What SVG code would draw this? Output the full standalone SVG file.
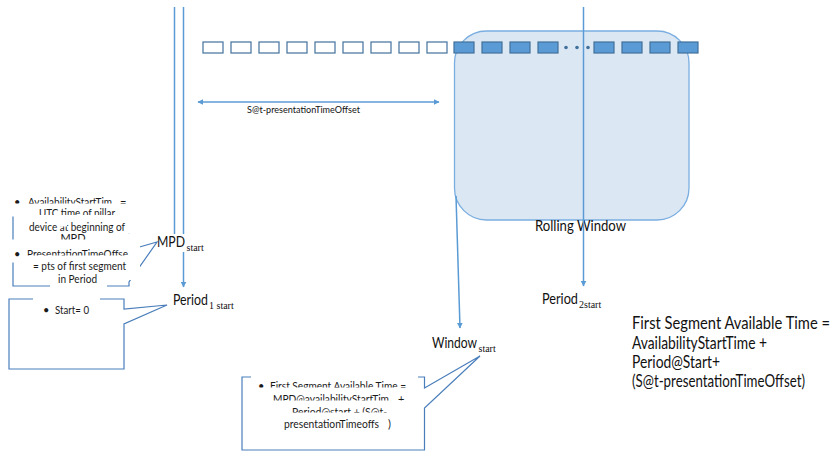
<svg xmlns="http://www.w3.org/2000/svg" width="834" height="453" viewBox="0 0 834 453">
  <defs>
    <marker id="arrow" viewBox="0 0 10 10" refX="9" refY="5" markerWidth="6" markerHeight="6" markerUnits="userSpaceOnUse" orient="auto-start-reverse">
      <path d="M0,0 L10,5 L0,10 Z" fill="#5b9bd5"/>
    </marker>
  </defs>
  <style>
    .lbl { font-family: Lato, "Liberation Sans", sans-serif; fill: #111; }
    .sub { font-family: "Liberation Serif", serif; fill: #111; }
    .note { font-family: Lato, "Liberation Sans", sans-serif; font-size: 11px; fill: #1a1a1a; }
    .seg { fill: #ffffff; stroke: #41719c; stroke-width: 1.2; }
    .seg-on { fill: #5b9bd5; stroke: #41719c; stroke-width: 1.2; }
    .link { fill: none; stroke: #5b9bd5; stroke-width: 1.5; }
    .callout { fill: none; stroke: #4a7ebb; stroke-width: 1.2; }
    .mask { fill: #ffffff; }
  </style>
  <rect width="834" height="453" fill="#ffffff"/>

  <!-- rolling window -->
  <g id="rolling-window">
    <rect x="454.5" y="31" width="234.5" height="189" rx="32" ry="32" fill="#dce7f4" stroke="#7aaee0" stroke-width="1.3"/>
    <text class="lbl" x="535" y="230.5" font-size="15" textLength="91" lengthAdjust="spacingAndGlyphs">Rolling Window</text>
  </g>

  <!-- segment timeline -->
  <g id="segments">
    <rect class="seg" x="203" y="42" width="20" height="11"/>
    <rect class="seg" x="231" y="42" width="20" height="11"/>
    <rect class="seg" x="259" y="42" width="20" height="11"/>
    <rect class="seg" x="287" y="42" width="20" height="11"/>
    <rect class="seg" x="315" y="42" width="20" height="11"/>
    <rect class="seg" x="343" y="42" width="20" height="11"/>
    <rect class="seg" x="371" y="42" width="20" height="11"/>
    <rect class="seg" x="399" y="42" width="20" height="11"/>
    <rect class="seg" x="427" y="42" width="20" height="11"/>
    <rect class="seg-on" x="454" y="42" width="20" height="11"/>
    <rect class="seg-on" x="482" y="42" width="20" height="11"/>
    <rect class="seg-on" x="510" y="42" width="20" height="11"/>
    <rect class="seg-on" x="538" y="42" width="20" height="11"/>
    <circle cx="566" cy="47.5" r="1.8" fill="#41719c"/>
    <circle cx="577" cy="47.5" r="1.8" fill="#41719c"/>
    <circle cx="588" cy="47.5" r="1.8" fill="#41719c"/>
    <rect class="seg-on" x="594" y="42" width="20" height="11"/>
    <rect class="seg-on" x="622" y="42" width="20" height="11"/>
    <rect class="seg-on" x="650" y="42" width="20" height="11"/>
    <rect class="seg-on" x="678" y="42" width="20" height="11"/>
  </g>

  <!-- connectors -->
  <g id="connectors">
    <line class="link" x1="174.5" y1="7" x2="174.5" y2="234"/>
    <line class="link" x1="183.5" y1="7" x2="183.5" y2="234"/>
    <line class="link" x1="183.5" y1="252" x2="183.5" y2="287" marker-end="url(#arrow)"/>
    <line class="link" x1="583.5" y1="7" x2="583.5" y2="286" marker-end="url(#arrow)"/>
    <line class="link" x1="456" y1="196" x2="460" y2="328" marker-end="url(#arrow)"/>
    <line class="link" x1="198" y1="102" x2="439" y2="102" stroke-width="1.3" marker-start="url(#arrow)" marker-end="url(#arrow)"/>
  </g>

  <g id="offset-label">
    <text class="lbl" x="247" y="113" font-size="10" textLength="113" lengthAdjust="spacingAndGlyphs">S@t-presentationTimeOffset</text>
  </g>

  <!-- time point labels -->
  <g id="mpd-start">
    <text class="lbl" x="157" y="247" font-size="15" textLength="28" lengthAdjust="spacingAndGlyphs">MPD</text>
    <text class="sub" x="186.5" y="251" font-size="10">start</text>
  </g>
  <g id="period1-start">
    <text class="lbl" x="173" y="305" font-size="14.5" textLength="35" lengthAdjust="spacingAndGlyphs">Period</text>
    <text class="sub" x="209" y="309" font-size="10">1 start</text>
  </g>
  <g id="period2-start">
    <text class="lbl" x="542" y="304" font-size="14.5" textLength="36" lengthAdjust="spacingAndGlyphs">Period</text>
    <text class="sub" x="579" y="308" font-size="10">2start</text>
  </g>
  <g id="window-start">
    <text class="lbl" x="432" y="348" font-size="14.5" textLength="45" lengthAdjust="spacingAndGlyphs">Window</text>
    <text class="sub" x="478.5" y="352" font-size="10">start</text>
  </g>

  <!-- callout: MPD attributes -->
  <g id="callout-mpd">
    <path class="callout" d="M13,195 V286 H129 V282 L157,242 L129,250 V195"/>
    <rect class="mask" x="3" y="190" width="137" height="16"/>
    <text class="note" x="14" y="206">•</text>
    <text class="note" x="28" y="206" textLength="84" lengthAdjust="spacingAndGlyphs">AvailabilityStartTim</text>
    <text class="note" x="120" y="206">=</text>
    <rect class="mask" x="3" y="203.5" width="137" height="13"/>
    <text class="note" x="39" y="217" textLength="76" lengthAdjust="spacingAndGlyphs">UTC time of pillar</text>
    <rect class="mask" x="25" y="215" width="115" height="18.5"/>
    <text class="note" x="29" y="231" textLength="96" lengthAdjust="spacingAndGlyphs">device at beginning of</text>
    <rect class="mask" x="57" y="221" width="10" height="5.5"/>
    <rect class="mask" x="25" y="233.5" width="115" height="8"/>
    <text class="note" x="73" y="242" text-anchor="middle">MPD</text>
    <rect class="mask" x="3" y="239.5" width="137" height="23"/>
    <text class="note" x="14" y="258">•</text>
    <text class="note" x="27" y="258" textLength="101" lengthAdjust="spacingAndGlyphs">PresentationTimeOffse</text>
    <rect class="mask" x="25" y="255.5" width="115" height="24.5"/>
    <text class="note" x="33" y="269.5" textLength="93" lengthAdjust="spacingAndGlyphs">= pts of first segment</text>
    <rect class="mask" x="50" y="272.5" width="57" height="18"/>
    <text class="note" x="58" y="282.5" textLength="39" lengthAdjust="spacingAndGlyphs">in Period</text>
  </g>

  <!-- callout: period start -->
  <g id="callout-period">
    <path class="callout" d="M9,299 H124 V309 L167,305 L124,324 V369 H9 Z"/>
    <rect class="mask" x="33" y="294" width="67" height="24"/>
    <text class="note" x="43" y="313.5">•</text>
    <text class="note" x="55" y="313.5" textLength="34" lengthAdjust="spacingAndGlyphs">Start= 0</text>
  </g>

  <!-- callout: first segment availability -->
  <g id="callout-window">
    <path class="callout" d="M242,377 H424.5 V388 L480,356 L424.5,408 V450 H242 Z"/>
    <rect class="mask" x="251" y="372" width="167" height="16"/>
    <text class="note" x="258" y="390">•</text>
    <text class="note" x="270" y="390" textLength="136" lengthAdjust="spacingAndGlyphs">First Segment Available Time =</text>
    <rect class="mask" x="251" y="387.5" width="167" height="14"/>
    <text class="note" x="273" y="403" textLength="116" lengthAdjust="spacingAndGlyphs">MPD@availabilityStartTim</text>
    <text class="note" x="398" y="403">+</text>
    <rect class="mask" x="251" y="400.5" width="167" height="12"/>
    <text class="note" x="292" y="416" textLength="95" lengthAdjust="spacingAndGlyphs">Period@start + (S@t-</text>
    <rect class="mask" x="251" y="412.5" width="167" height="20"/>
    <text class="note" x="284" y="427.5" textLength="95" lengthAdjust="spacingAndGlyphs">presentationTimeoffs</text>
    <text class="note" x="388" y="427.5">)</text>
  </g>

  <!-- formula -->
  <g id="formula">
    <text class="lbl" x="632" y="329" font-size="17.5" textLength="198" lengthAdjust="spacingAndGlyphs">First Segment  Available Time =</text>
    <text class="lbl" x="632" y="349" font-size="17.5" textLength="135" lengthAdjust="spacingAndGlyphs">AvailabilityStartTime +</text>
    <text class="lbl" x="632" y="368" font-size="17.5" textLength="88" lengthAdjust="spacingAndGlyphs">Period@Start+</text>
    <text class="lbl" x="632" y="387" font-size="17.5" textLength="173" lengthAdjust="spacingAndGlyphs">(S@t-presentationTimeOffset)</text>
  </g>
</svg>
